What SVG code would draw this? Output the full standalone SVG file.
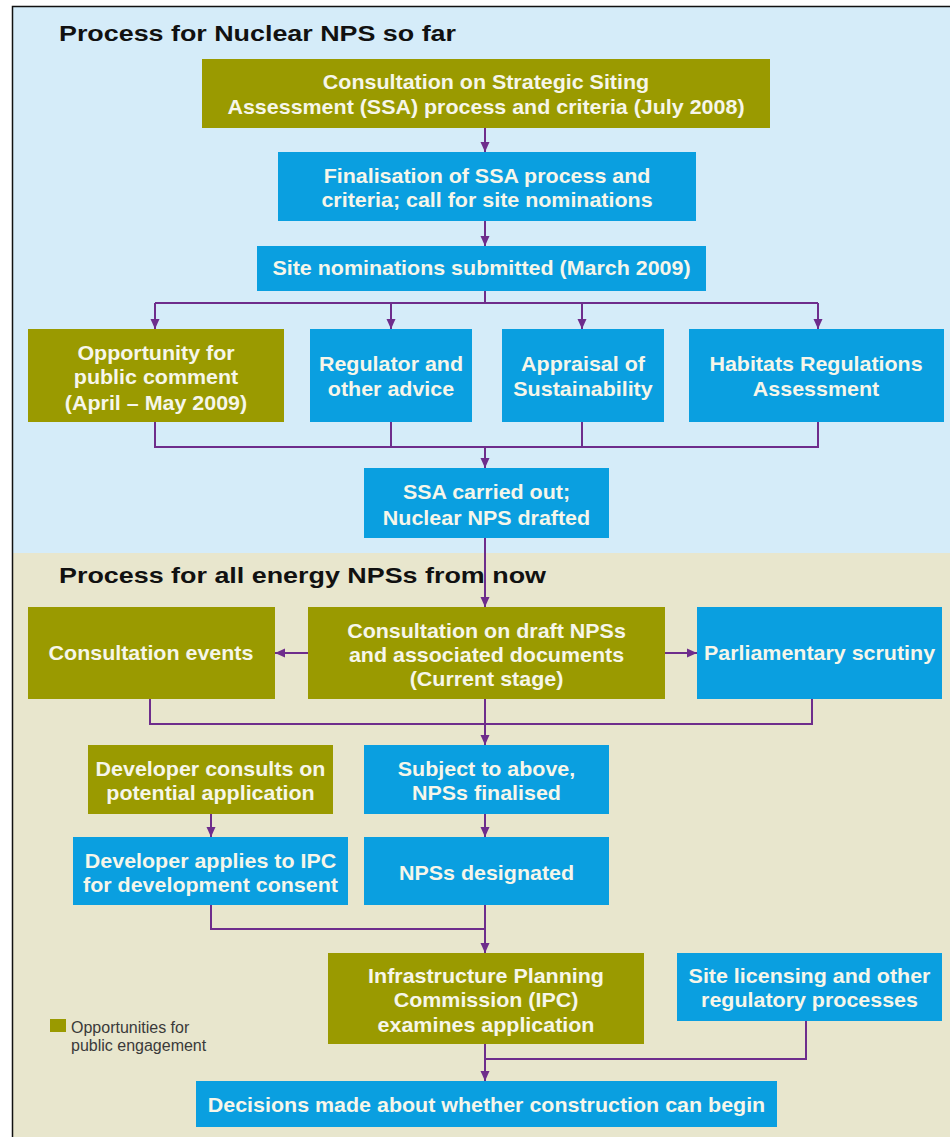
<svg xmlns="http://www.w3.org/2000/svg" width="950" height="1137" viewBox="0 0 950 1137">
<defs>
<style>
.olive{fill:#9a9a00}
.blue{fill:#0a9fe0}
.nt{font-family:"Liberation Sans",Arial,sans-serif;font-weight:bold;font-size:19.5px;fill:#f6f6ea;text-anchor:middle}
.title{font-family:"Liberation Sans",Arial,sans-serif;font-weight:bold;font-size:22px;fill:#111}
.leg{font-family:"Liberation Sans",Arial,sans-serif;font-size:16px;fill:#3a3a3a}
.c{fill:none;stroke:#6e2d8c;stroke-width:2}
</style>
<marker id="ah" markerUnits="userSpaceOnUse" markerWidth="11" markerHeight="11" refX="10" refY="5.5" orient="auto">
<path d="M0,1 L10,5.5 L0,10 z" fill="#6e2d8c"/>
</marker>
</defs>
<rect x="0" y="0" width="950" height="1137" fill="#ffffff"/>
<rect x="12" y="6" width="938" height="548" fill="#d5ecf9"/>
<rect x="12" y="553" width="938" height="584" fill="#e8e6cd"/>
<path d="M12.5,1137 V6.5 H950" fill="none" stroke="#111" stroke-width="1.5"/>
<text class="title" x="59" y="41" textLength="397" lengthAdjust="spacingAndGlyphs">Process for Nuclear NPS so far</text>
<text class="title" x="59" y="583" textLength="487" lengthAdjust="spacingAndGlyphs">Process for all energy NPSs from now</text>

<g id="connectors">
<line class="c" x1="485" y1="128" x2="485" y2="152" marker-end="url(#ah)"/>
<line class="c" x1="485" y1="221" x2="485" y2="246" marker-end="url(#ah)"/>
<path class="c" d="M485,291 V303 M155,303 H818"/>
<line class="c" x1="155" y1="303" x2="155" y2="329" marker-end="url(#ah)"/>
<line class="c" x1="391" y1="303" x2="391" y2="329" marker-end="url(#ah)"/>
<line class="c" x1="582" y1="303" x2="582" y2="329" marker-end="url(#ah)"/>
<line class="c" x1="818" y1="303" x2="818" y2="329" marker-end="url(#ah)"/>
<path class="c" d="M155,422 V447 H818 V422 M391,422 V447 M582,422 V447"/>
<line class="c" x1="485" y1="447" x2="485" y2="468" marker-end="url(#ah)"/>
<line class="c" x1="485" y1="538" x2="485" y2="607" marker-end="url(#ah)"/>
<line class="c" x1="308" y1="653" x2="275" y2="653" marker-end="url(#ah)"/>
<line class="c" x1="665" y1="653" x2="697" y2="653" marker-end="url(#ah)"/>
<path class="c" d="M150,699 V724 H812 V699"/>
<line class="c" x1="485" y1="699" x2="485" y2="745" marker-end="url(#ah)"/>
<line class="c" x1="211" y1="814" x2="211" y2="837" marker-end="url(#ah)"/>
<line class="c" x1="485" y1="814" x2="485" y2="837" marker-end="url(#ah)"/>
<path class="c" d="M211,905 V929 H485"/>
<line class="c" x1="485" y1="905" x2="485" y2="953" marker-end="url(#ah)"/>
<path class="c" d="M806,1021 V1059 H485"/>
<line class="c" x1="485" y1="1044" x2="485" y2="1081" marker-end="url(#ah)"/>
</g>

<g id="n-consult-ssa">
<rect class="olive" x="202" y="59" width="568" height="69"/>
<text class="nt" transform="translate(486,0) scale(1.1,1)"><tspan x="0" y="89">Consultation on Strategic Siting</tspan><tspan x="0" y="114">Assessment (SSA) process and criteria (July 2008)</tspan></text>
</g>
<g id="n-finalisation">
<rect class="blue" x="278" y="152" width="418" height="69"/>
<text class="nt" transform="translate(487,0) scale(1.1,1)"><tspan x="0" y="183">Finalisation of SSA process and</tspan><tspan x="0" y="207">criteria; call for site nominations</tspan></text>
</g>
<g id="n-site-nominations">
<rect class="blue" x="257" y="246" width="449" height="45"/>
<text class="nt" transform="translate(481.5,0) scale(1.1,1)"><tspan x="0" y="275">Site nominations submitted (March 2009)</tspan></text>
</g>
<g id="n-public-comment">
<rect class="olive" x="28" y="329" width="256" height="93"/>
<text class="nt" transform="translate(156,0) scale(1.1,1)"><tspan x="0" y="360">Opportunity for</tspan><tspan x="0" y="384">public comment</tspan><tspan x="0" y="410">(April – May 2009)</tspan></text>
</g>
<g id="n-regulator">
<rect class="blue" x="310" y="329" width="162" height="93"/>
<text class="nt" transform="translate(391,0) scale(1.1,1)"><tspan x="0" y="371">Regulator and</tspan><tspan x="0" y="396">other advice</tspan></text>
</g>
<g id="n-appraisal">
<rect class="blue" x="502" y="329" width="162" height="93"/>
<text class="nt" transform="translate(583,0) scale(1.1,1)"><tspan x="0" y="371">Appraisal of</tspan><tspan x="0" y="396">Sustainability</tspan></text>
</g>
<g id="n-habitats">
<rect class="blue" x="689" y="329" width="255" height="93"/>
<text class="nt" transform="translate(816,0) scale(1.1,1)"><tspan x="0" y="371">Habitats Regulations</tspan><tspan x="0" y="396">Assessment</tspan></text>
</g>
<g id="n-ssa-carried">
<rect class="blue" x="364" y="468" width="245" height="70"/>
<text class="nt" transform="translate(486.5,0) scale(1.1,1)"><tspan x="0" y="499">SSA carried out;</tspan><tspan x="0" y="525">Nuclear NPS drafted</tspan></text>
</g>
<g id="n-consultation-events">
<rect class="olive" x="28" y="607" width="247" height="92"/>
<text class="nt" transform="translate(151,0) scale(1.1,1)"><tspan x="0" y="660">Consultation events</tspan></text>
</g>
<g id="n-consultation-draft">
<rect class="olive" x="308" y="607" width="357" height="92"/>
<text class="nt" transform="translate(486.5,0) scale(1.1,1)"><tspan x="0" y="638">Consultation on draft NPSs</tspan><tspan x="0" y="662">and associated documents</tspan><tspan x="0" y="686">(Current stage)</tspan></text>
</g>
<g id="n-parliamentary">
<rect class="blue" x="697" y="607" width="245" height="92"/>
<text class="nt" transform="translate(819.5,0) scale(1.1,1)"><tspan x="0" y="660">Parliamentary scrutiny</tspan></text>
</g>
<g id="n-developer-consults">
<rect class="olive" x="88" y="745" width="245" height="69"/>
<text class="nt" transform="translate(210.5,0) scale(1.1,1)"><tspan x="0" y="776">Developer consults on</tspan><tspan x="0" y="800">potential application</tspan></text>
</g>
<g id="n-subject">
<rect class="blue" x="364" y="745" width="245" height="69"/>
<text class="nt" transform="translate(486.5,0) scale(1.1,1)"><tspan x="0" y="776">Subject to above,</tspan><tspan x="0" y="800">NPSs finalised</tspan></text>
</g>
<g id="n-developer-applies">
<rect class="blue" x="73" y="837" width="275" height="68"/>
<text class="nt" transform="translate(210.5,0) scale(1.1,1)"><tspan x="0" y="868">Developer applies to IPC</tspan><tspan x="0" y="892">for development consent</tspan></text>
</g>
<g id="n-designated">
<rect class="blue" x="364" y="837" width="245" height="68"/>
<text class="nt" transform="translate(486.5,0) scale(1.1,1)"><tspan x="0" y="880">NPSs designated</tspan></text>
</g>
<g id="n-ipc">
<rect class="olive" x="328" y="953" width="316" height="91"/>
<text class="nt" transform="translate(486,0) scale(1.1,1)"><tspan x="0" y="983">Infrastructure Planning</tspan><tspan x="0" y="1007">Commission (IPC)</tspan><tspan x="0" y="1032">examines application</tspan></text>
</g>
<g id="n-site-licensing">
<rect class="blue" x="677" y="953" width="265" height="68"/>
<text class="nt" transform="translate(809.5,0) scale(1.1,1)"><tspan x="0" y="983">Site licensing and other</tspan><tspan x="0" y="1007">regulatory processes</tspan></text>
</g>
<g id="n-decisions">
<rect class="blue" x="196" y="1081" width="581" height="46"/>
<text class="nt" transform="translate(486.5,0) scale(1.1,1)"><tspan x="0" y="1112">Decisions made about whether construction can begin</tspan></text>
</g>
<g id="legend">
<rect class="olive" x="50" y="1019" width="16" height="13"/>
<text class="leg" x="71" y="1033">Opportunities for</text>
<text class="leg" x="71" y="1051">public engagement</text>
</g>
</svg>
